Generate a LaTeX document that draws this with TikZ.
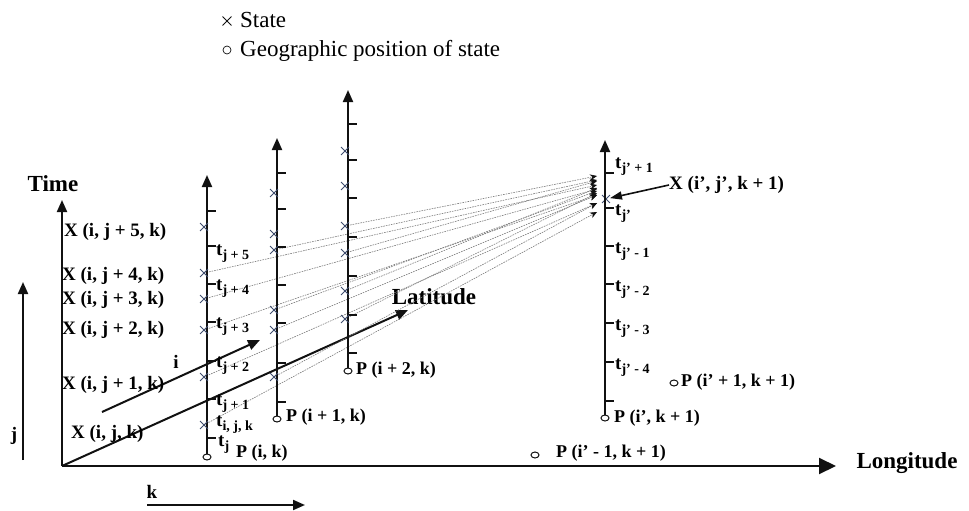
\documentclass[tikz,border=0pt]{standalone}
\usepackage{fontspec}
\setmainfont{Liberation Serif}
\usetikzlibrary{arrows.meta,calc,shapes.misc,shapes.geometric}
\definecolor{STink}{HTML}{111111}
\definecolor{STlink}{HTML}{7A7A7A}
\definecolor{STmark}{HTML}{3E4C6E}
\newcommand{\tsub}[1]{t\raisebox{-4pt}{\fontsize{14}{15}\selectfont #1}}

\begin{document}
\begin{tikzpicture}[
  x=1pt,y=-1pt,
  font=\rmfamily\bfseries\fontsize{19}{21}\selectfont,
  line cap=butt,
  >={Triangle[length=12pt,width=10pt]},
  axis/.style={draw=STink,line width=2pt,->},
  stem/.style={draw=STink,line width=2pt,->},
  notch/.style={draw=STink,line width=1.8pt},
  statex/.style={cross out,draw=STmark,line width=0.9pt,minimum size=7pt,inner sep=0pt},
  geopos/.style={ellipse,draw=STink,line width=1pt,minimum width=8pt,minimum height=6pt,
    inner sep=0pt,fill=white},
  link/.style={draw=STlink,line width=0.6pt,dash pattern=on 1.6pt off 1pt,
    -{Stealth[length=7pt,width=6pt,STink]}},
  tlab/.style={anchor=west,inner sep=0pt},
  plab/.style={anchor=west,inner sep=0pt,font=\rmfamily\bfseries\fontsize{18}{20}\selectfont},
  big/.style={font=\rmfamily\bfseries\fontsize{23}{25}\selectfont},
  legend/.style={font=\rmfamily\fontsize{23}{25}\selectfont,anchor=base west,inner sep=0pt}
]
\useasboundingbox (0,0) rectangle (969,511);

% Legend
\node[statex,draw=STink,minimum size=8pt] (lgx) at (227,21) {};
\node[legend] (lgstate) at (240,28) {State};
\node[circle,draw=STink,line width=0.7pt,minimum size=8pt,inner sep=0pt] (lgo) at (227,50) {};
\node[legend] (lggeo) at (240,57) {Geographic position of state};

% Axes
\coordinate (o) at (62,466);
\coordinate (timeend) at (62,200);
\coordinate (lonend) at (836,466);
\coordinate (latend) at (408,310);
\draw[axis] (o) -- (timeend);
\draw[axis,-{Triangle[length=17pt,width=16pt]}] (o) -- (lonend);
\draw[axis] (o) -- (latend);
\node[big] (timelab) at (53,184) {Time};
\node[big] (lonlab) at (907,463) {Longitude};
\node[big] (latlab) at (434,297) {Latitude};

% Direction arrows i, j, k
\coordinate (i0) at (102,412); \coordinate (i1) at (260,340);
\coordinate (j0) at (23,460);  \coordinate (j1) at (23,282);
\coordinate (k0) at (147,505); \coordinate (k1) at (305,505);
\draw[axis] (i0) -- (i1);
\draw[axis] (j0) -- (j1);
\draw[axis] (k0) -- (k1);
\node (ilab) at (176,362) {i};
\node (jlab) at (14,436) {j};
\node (klab) at (152,492) {k};

% Transitions into X(i', j', k + 1), under the stems
\node[statex] (tgt) at (606,199) {};
\foreach \y [count=\n] in {227,273,299,330,377,425} \coordinate (a\n) at (204,\y);
\foreach \y [count=\n] in {193,234,250,310,330,377} \coordinate (b\n) at (274,\y);
\foreach \y [count=\n] in {151,186,226,253,291,319} \coordinate (c\n) at (345,\y);
\foreach \src/\dy in {c3/-23,c4/-18,c5/-11,c6/-6,b3/-19,b4/-8,b5/-4,b6/4,
  a2/-14,a3/-10,a4/-4,a5/4,a6/13}
  \draw[link] (\src) -- ($(tgt)+(-9,\dy)$);

% Stem P(i, k)
\node[geopos] (p1) at (207,457) {};
\coordinate (top1) at (207,175);
\draw[stem] (p1.north) -- (top1);
\foreach \y in {211,246,284,322,361,399,438} \draw[notch] (207,\y) -- ++(9,0);
\foreach \n in {1,...,6} \node[statex] at (a\n) {};
\node[tlab] at (216,254) {\tsub{j + 5}};
\node[tlab] at (216,289) {\tsub{j + 4}};
\node[tlab] at (216,327) {\tsub{j + 3}};
\node[tlab] at (216,366) {\tsub{j + 2}};
\node[tlab] at (216,404) {\tsub{j + 1}};
\node[tlab] at (216,425) {\tsub{i, j, k}};
\node[tlab] at (218,445) {\tsub{j}};
\node[plab] (p1lab) at (236,453) {P (i, k)};

% Stem P(i + 1, k)
\node[geopos] (p2) at (277,419) {};
\coordinate (top2) at (277,138);
\draw[stem] (p2.north) -- (top2);
\foreach \y in {173,209,247,285,323,363,402} \draw[notch] (277,\y) -- ++(9,0);
\foreach \n in {1,...,6} \node[statex] at (b\n) {};
\node[plab] (p2lab) at (286,417) {P (i + 1, k)};

% Stem P(i + 2, k)
\node[geopos] (p3) at (348,371) {};
\coordinate (top3) at (348,90);
\draw[stem] (p3.north) -- (top3);
\foreach \y in {124,160,198,237,276,315,353} \draw[notch] (348,\y) -- ++(9,0);
\foreach \n in {1,...,6} \node[statex] at (c\n) {};
\node[plab] (p3lab) at (356,370) {P (i + 2, k)};

% Stem P(i', k + 1)
\node[geopos] (p4) at (605,418) {};
\coordinate (top4) at (605,140);
\draw[stem] (p4.north) -- (top4);
\foreach \y in {173,208,246,284,323,362,401} \draw[notch] (605,\y) -- ++(9,0);
\node[tlab] at (615,167) {\tsub{j’ + 1}};
\node[tlab] at (615,214) {\tsub{j’}};
\node[tlab] at (615,252) {\tsub{j’ - 1}};
\node[tlab] at (615,290) {\tsub{j’ - 2}};
\node[tlab] at (615,329) {\tsub{j’ - 3}};
\node[tlab] at (615,368) {\tsub{j’ - 4}};
\node[plab] (p4lab) at (614,418) {P (i’, k + 1)};

% Neighbouring positions
\node[geopos] (p5) at (674,383) {};
\node[plab] (p5lab) at (681,382) {P (i’ + 1, k + 1)};
\node[geopos] (p6) at (535,455) {};
\node[plab] (p6lab) at (556,453) {P (i’ - 1, k + 1)};

% State labels
\node[anchor=west,inner sep=0pt] (xa1) at (64,232) {X (i, j + 5, k)};
\node[anchor=west,inner sep=0pt] (xa2) at (62,276) {X (i, j + 4, k)};
\node[anchor=west,inner sep=0pt] (xa3) at (62,300) {X (i, j + 3, k)};
\node[anchor=west,inner sep=0pt] (xa4) at (62,330) {X (i, j + 2, k)};
\node[anchor=west,inner sep=0pt] (xa5) at (62,385) {X (i, j + 1, k)};
\node[anchor=west,inner sep=0pt] (xa6) at (71,434) {X (i, j, k)};
\node[anchor=west,inner sep=0pt] (xtgt) at (669,185) {X (i’, j’, k + 1)};
\draw[axis,line width=1.6pt,-{Triangle[length=12pt,width=8pt]}] (xtgt.west) -- (tgt);

\end{tikzpicture}
\end{document}
